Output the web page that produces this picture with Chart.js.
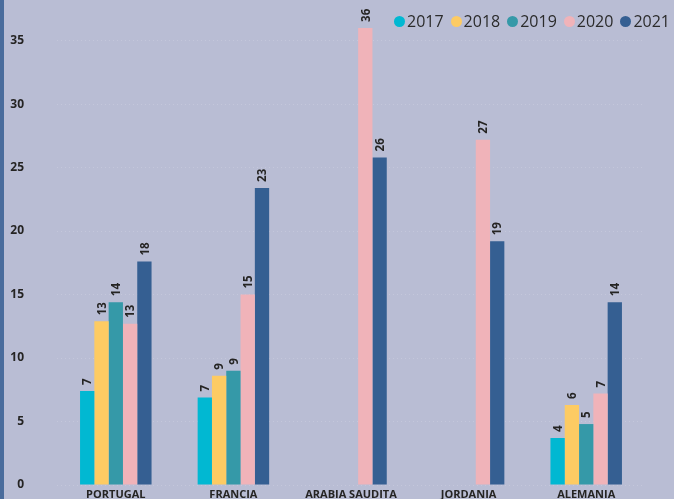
<!DOCTYPE html>
<html>
<head>
<meta charset="utf-8">
<script src="https://cdn.jsdelivr.net/npm/chart.js@4"></script>
<style>
  html, body { margin: 0; padding: 0; overflow: hidden; background: #b9bdd4; }
  #marco { position: relative; width: 674px; height: 499px; overflow: hidden; }
  #franja { position: absolute; left: 0; top: 0; width: 4px; height: 100%; background: #4a6c9c; z-index: 2; }
  #caja { position: absolute; left: 0; top: 0; width: 674px; height: 510px; }
  #leyenda { position: absolute; left: 394px; top: 10px; display: flex; font: 16px "Open Sans", sans-serif; color: #2b2b2b; z-index: 3; }
  #leyenda span.item { display: flex; align-items: center; margin-right: 7px; }
  #leyenda span.punto { width: 11px; height: 11px; border-radius: 50%; margin-right: 2px; }
</style>
</head>
<body>
<div id="marco">
  <div id="franja"></div>
  <div id="caja"><canvas id="grafica" width="674" height="510"></canvas></div>
  <div id="leyenda"></div>
</div>
<script>
const paises = ['PORTUGAL', 'FRANCIA', 'ARABIA SAUDITA', 'JORDANIA', 'ALEMANIA'];
const anios = ['2017', '2018', '2019', '2020', '2021'];
const colores = ['#01b8d2', '#fdcb63', '#3599a8', '#f0b3b9', '#355f92'];

// valores por año (uno por país, null = sin dato)
const valores2017 = [7.4, 6.9, null, null, 3.7];
const valores2018 = [12.9, 8.6, null, null, 6.3];
const valores2019 = [14.4, 9.0, null, null, 4.8];
const valores2020 = [12.7, 15.0, 36.0, 27.2, 7.2];
const valores2021 = [17.6, 23.4, 25.8, 19.2, 14.4];
const marcasY = [0, 5, 10, 15, 20, 25, 30, 35];

const series = [valores2017, valores2018, valores2019, valores2020, valores2021];

// 🔹 Etiquetas verticales encima de cada barra
const etiquetasBarras = {
    id: 'etiquetasBarras',
    afterDatasetsDraw(chart) {
        const { ctx } = chart;
        ctx.save();
        ctx.font = 'bold 11.5px "Open Sans"';
        ctx.fillStyle = '#252423';
        ctx.textAlign = 'left';
        ctx.textBaseline = 'middle';
        chart.data.datasets.forEach((ds, i) => {
            chart.getDatasetMeta(i).data.forEach((barra, j) => {
                const v = ds.data[j];
                if (v == null) return;
                ctx.save();
                ctx.translate(barra.x + 1, barra.y - 6);
                ctx.rotate(-Math.PI / 2);
                ctx.fillText(String(Math.round(v)), 0, 0);
                ctx.restore();
            });
        });
        ctx.restore();
    }
};

const grafica = new Chart(document.getElementById('grafica').getContext('2d'), {
    type: 'bar',
    data: {
        labels: paises,
        datasets: anios.map((a, i) => ({
            label: a,
            data: series[i],
            backgroundColor: colores[i],
            borderWidth: 0,
            categoryPercentage: 0.608,
            barPercentage: 1.0
        }))
    },
    options: {
        responsive: false,
        animation: false,
        layout: { padding: { top: 0, right: 29, left: 0, bottom: 0 } },
        plugins: {
            legend: { display: false },
            tooltip: { enabled: false }
        },
        scales: {
            x: {
                grid: { display: false, drawTicks: false },
                border: { display: false },
                ticks: {
                    color: '#252423',
                    font: { family: 'Open Sans', size: 11, weight: 'bold' },
                    padding: 3,
                    maxRotation: 0
                },
                afterFit: (scale) => { scale.height = 25; }
            },
            y: {
                min: 0,
                max: 38.2,
                border: { display: false, dash: [1, 3] },
                grid: {
                    color: 'rgba(255,255,255,0.16)',
                    lineWidth: 1,
                    drawTicks: false
                },
                ticks: {
                    stepSize: 5,
                    color: '#252423',
                    font: { family: 'Open Sans', size: 12, weight: 'bold' },
                    padding: 33
                },
                afterBuildTicks: (scale) => {
                    scale.ticks = marcasY.map(v => ({ value: v }));
                },
                afterFit: (scale) => {
                    scale.width = 57;
                    scale.paddingTop = 0;
                    scale.paddingBottom = 0;
                }
            }
        }
    },
    plugins: [etiquetasBarras]
});

// 🔹 Leyenda arriba a la derecha
const leyenda = document.getElementById('leyenda');
anios.forEach((a, i) => {
    const item = document.createElement('span');
    item.className = 'item';
    const punto = document.createElement('span');
    punto.className = 'punto';
    punto.style.background = colores[i];
    item.appendChild(punto);
    item.appendChild(document.createTextNode(a));
    leyenda.appendChild(item);
});
</script>
</body>
</html>
